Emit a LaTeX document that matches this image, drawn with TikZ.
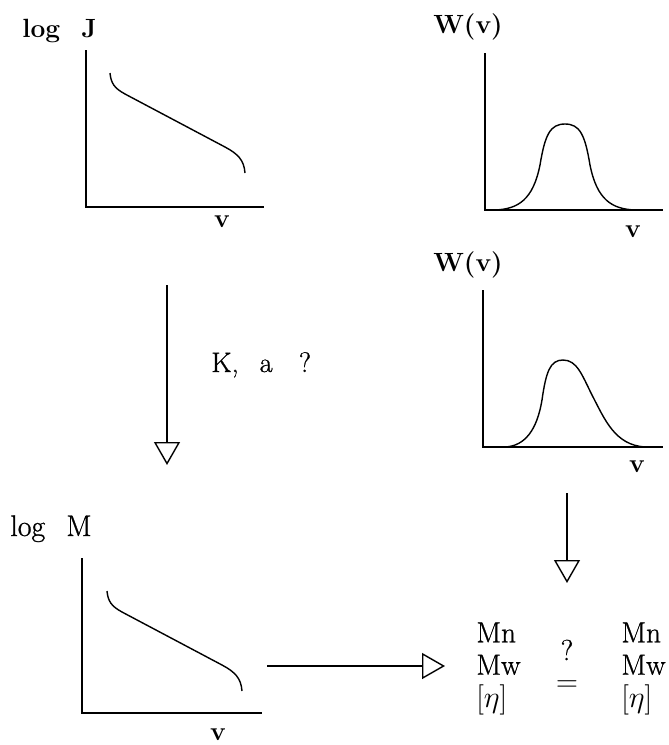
\documentclass[tikz,border=0pt]{standalone}
\usepackage{amsmath}
\usepackage{fontspec}
\newfontfamily\scanfont[FakeBold=0.8]{Latin Modern Roman}
\usepackage{tikz}
\usetikzlibrary{arrows.meta}

\begin{document}
\begin{tikzpicture}[
		x=0.02cm, y=-0.02cm,
		axislabel/.style={font=\fontsize{15}{18}\selectfont\bfseries, inner sep=0pt},
		kalabel/.style={font=\fontsize{16}{19}\selectfont\scanfont, inner sep=0pt},
		avglist/.style={font=\fontsize{16.6}{18.4}\selectfont\scanfont, align=left, inner sep=0pt},
		relsign/.style={font=\fontsize{16.6}{19.5}\selectfont\scanfont, inner sep=0pt},
		axes/.style={line width=0.8pt},
		curve/.style={line width=0.8pt},
		arrow/.style={-{Triangle[open, length=0.46cm, width=0.52cm]}, line width=0.8pt}
	]
	\useasboundingbox (0,0) rectangle (669,745);

	% log J against v
	\node[axislabel, anchor=base west] (logJ) at (22,37) {log\hspace{12pt}J};
	\draw[axes] (86,50) -- (86,207) -- (264,207);
	\draw[curve] (110,73) .. controls (111,83) and (114,88) .. (125,94)
		-- (225,147) .. controls (238,154) and (244,160) .. (245,173);
	\node[axislabel] (vJ) at (222,222) {v};

	% first W(v)
	\node[axislabel, anchor=base west] (Wone) at (433,33) {W(v)};
	\draw[axes] (485,53) -- (485,210) -- (663,210);
	\draw[curve] (495,210) .. controls (518,209) and (533,200) .. (540,165)
		.. controls (545,135) and (550,124) .. (565,124)
		.. controls (580,124) and (585,135) .. (590,165)
		.. controls (597,200) and (612,209) .. (635,210);
	\node[axislabel] (vWone) at (633,232) {v};

	% second W(v)
	\node[axislabel, anchor=base west] (Wtwo) at (433,271) {W(v)};
	\draw[axes] (483,290) -- (483,447) -- (663,447);
	\draw[curve] (505,447) .. controls (525,446) and (537,430) .. (542,400)
		.. controls (546,372) and (550,360) .. (563,360)
		.. controls (577,360) and (582,375) .. (592,395)
		.. controls (605,420) and (615,445) .. (645,447);
	\node[axislabel] (vWtwo) at (637,467) {v};

	% K, a
	\coordinate (kaStart) at (167,285);
	\coordinate (kaEnd) at (167,465);
	\draw[arrow] (kaStart) -- (kaEnd);
	\node[kalabel, anchor=base west] (ka) at (211,372) {K,\hspace{12pt}a\hspace{15pt}?};

	% log M against v
	\node[kalabel, font=\fontsize{17}{20}\selectfont\scanfont, anchor=base west] (logM) at (10,536) {log\hspace{12pt}M};
	\draw[axes] (82,558) -- (82,713) -- (262,713);
	\draw[curve] (107,591) .. controls (108,601) and (111,606) .. (122,612)
		-- (222,665) .. controls (235,672) and (241,678) .. (242,691);
	\node[axislabel] (vM) at (218,735) {v};

	% averages
	\node[avglist, anchor=base west] (calc) at (476,707) {Mn\\Mw\\$[\eta]$};
	\node[avglist, anchor=base west] (meas) at (621,707) {Mn\\Mw\\$[\eta]$};
	\node[relsign] (query) at (567,650) {?};
	\node[relsign] (equal) at (567,686) {$=$};

	\coordinate (mStart) at (267,666);
	\coordinate (mEnd) at (445,666);
	\draw[arrow] (mStart) -- (mEnd);
	\coordinate (wStart) at (567,493);
	\coordinate (wEnd) at (567,583);
	\draw[arrow] (wStart) -- (wEnd);
\end{tikzpicture}
\end{document}
